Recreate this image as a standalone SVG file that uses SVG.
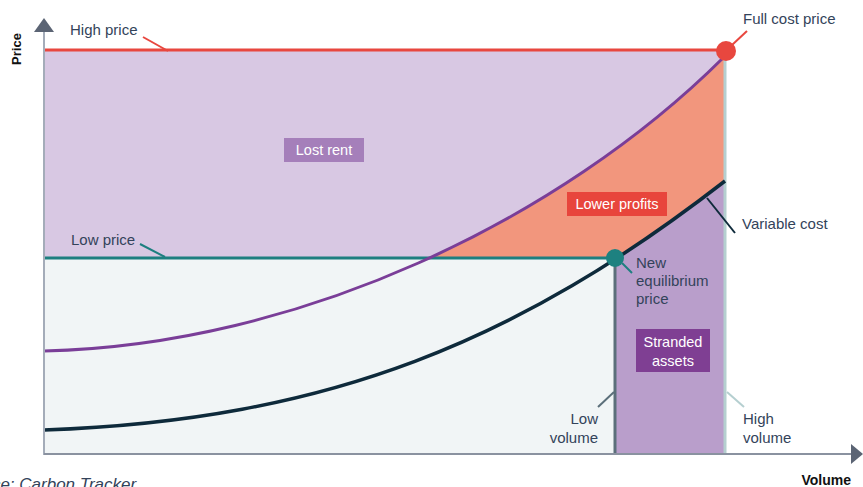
<svg xmlns="http://www.w3.org/2000/svg" width="863" height="487" viewBox="0 0 863 487">
<defs>
<style>
.lbl{font-family:"Liberation Sans",Arial,sans-serif;font-size:15px;fill:#33435a}
.box{font-family:"Liberation Sans",Arial,sans-serif;font-size:14.5px;fill:#ffffff;text-anchor:middle}
.ax{font-family:"Liberation Sans",Arial,sans-serif;font-size:13px;font-weight:bold;fill:#111111}
.lead{fill:none;stroke-width:2}
</style>
<clipPath id="cTop"><rect x="44" y="50" width="681" height="208"/></clipPath>
<clipPath id="cStr"><rect x="615" y="0" width="110" height="454"/></clipPath>
</defs>
<rect width="863" height="487" fill="#ffffff"/>
<g id="areas">
<rect x="44" y="50" width="681" height="208" fill="#d8c8e3"/>
<rect x="44" y="258" width="571" height="196" fill="#f1f5f6"/>
<path d="M44,351 C300,345 560,220 723,58 L725,58 L725,454 L44,454 Z" fill="#f2967d" clip-path="url(#cTop)"/>
<path d="M44,430 C330,420 520,340 725,181 L725,454 L44,454 Z" fill="#b99ecb" clip-path="url(#cStr)"/>
</g>
<g id="connectors">
<line x1="725" y1="58" x2="725" y2="454" stroke="#b5cfd0" stroke-width="3"/>
<line x1="615" y1="258" x2="615" y2="454" stroke="#5b6f7a" stroke-width="3"/>
<line x1="44" y1="50" x2="725" y2="50" stroke="#e8473f" stroke-width="3"/>
<line x1="44" y1="258" x2="615" y2="258" stroke="#1d7f80" stroke-width="3"/>
<path d="M44,351 C300,345 560,220 723,58" fill="none" stroke="#7a3e98" stroke-width="3"/>
<path d="M44,430 C330,420 520,340 725,181" fill="none" stroke="#0e2a3b" stroke-width="3.5"/>
<line class="lead" x1="143" y1="37" x2="168" y2="51" stroke="#e8473f"/>
<line class="lead" x1="732" y1="45" x2="747" y2="31" stroke="#e8473f"/>
<line class="lead" x1="140" y1="244" x2="165" y2="257" stroke="#1d7f80"/>
<line class="lead" x1="622" y1="263" x2="632" y2="273" stroke="#1d7f80"/>
<line class="lead" x1="707" y1="198" x2="735" y2="233" stroke="#0e2a3b"/>
<line class="lead" x1="614" y1="392" x2="598" y2="407" stroke="#5b6f7a"/>
<line class="lead" x1="727" y1="392" x2="744" y2="407" stroke="#b5cfd0"/>
</g>
<g id="axes">
<line x1="44" y1="28" x2="44" y2="455" stroke="#a4acb9" stroke-width="2"/>
<polygon points="44,18 34,32 54,32" fill="#5b6474"/>
<line x1="44" y1="454" x2="853" y2="454" stroke="#8a92a0" stroke-width="2"/>
<polygon points="863,454 851,444 851,464" fill="#5b6474"/>
<text class="ax" transform="translate(21,49) rotate(-90)" text-anchor="middle">Price</text>
<text class="ax" x="851" y="485" text-anchor="end" style="font-size:14px">Volume</text>
</g>
<g id="node-high-price"><text class="lbl" x="70" y="35">High price</text></g>
<g id="node-full-cost"><circle cx="726" cy="51" r="10" fill="#e8473f"/><text class="lbl" x="743" y="24">Full cost price</text></g>
<g id="node-low-price"><text class="lbl" x="71" y="245">Low price</text></g>
<g id="node-lost-rent"><rect x="284" y="138" width="80" height="24" fill="#a57fba"/><text class="box" x="324" y="155">Lost rent</text></g>
<g id="node-lower-profits"><rect x="567" y="192" width="100" height="24" fill="#e8453c"/><text class="box" x="617" y="209">Lower profits</text></g>
<g id="node-variable-cost"><text class="lbl" x="742" y="229">Variable cost</text></g>
<g id="node-equilibrium"><circle cx="615" cy="258" r="9" fill="#1d8180"/><text class="lbl" x="636" y="268">New</text><text class="lbl" x="636" y="286">equilibrium</text><text class="lbl" x="636" y="304">price</text></g>
<g id="node-stranded"><rect x="636" y="329" width="74" height="43" fill="#7f3f93"/><text class="box" x="673" y="347">Stranded</text><text class="box" x="673" y="366">assets</text></g>
<g id="node-low-volume"><text class="lbl" x="598" y="424" text-anchor="end">Low</text><text class="lbl" x="598" y="443" text-anchor="end">volume</text></g>
<g id="node-high-volume"><text class="lbl" x="743" y="424">High</text><text class="lbl" x="743" y="443">volume</text></g>
<text x="-44" y="490" font-family="Liberation Sans, Arial, sans-serif" font-size="17" font-style="italic" fill="#33435a">Source: Carbon Tracker</text>
</svg>
